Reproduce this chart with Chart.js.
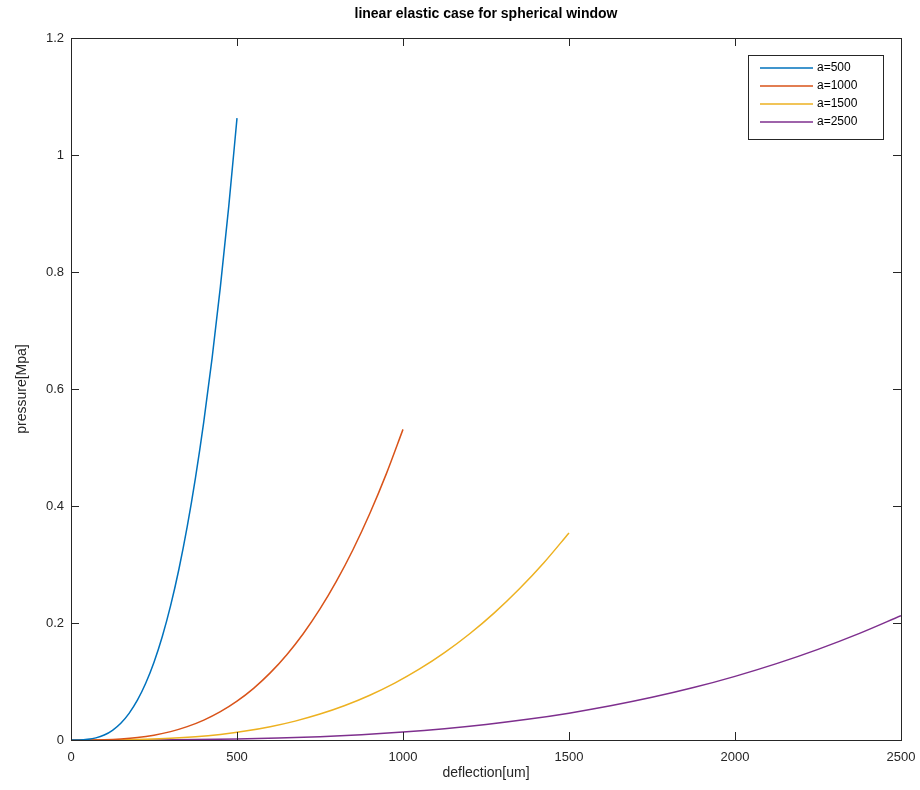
<!DOCTYPE html>
<html lang="en">
<head>
    <meta charset="UTF-8">
    <title>linear elastic case for spherical window</title>
    <script src="https://cdn.jsdelivr.net/npm/chart.js"></script>
    <style>
        body {
            margin: 0;
            background: #ffffff;
        }
        .chart-container {
            position: relative;
            width: 920px;
            height: 790px;
        }
    </style>
</head>
<body>
    <div class="chart-container">
        <canvas id="windowChart"></canvas>
    </div>

    <script>
        // values
        const seriesLabels = ['a=500', 'a=1000', 'a=1500', 'a=2500'];
        const seriesColors = ['#0072BD', '#D95319', '#EDB120', '#7E2F8E'];

        const defl500 = [0, 25, 50, 75, 100, 125, 150, 175, 200, 225, 250, 275, 300, 325, 350, 375, 400, 425, 450, 475, 500];
        const press500 = [0, 0.0001, 0.0011, 0.0036, 0.0085, 0.0166, 0.0287, 0.0456, 0.0680, 0.0969, 0.1329, 0.1769, 0.2296, 0.2919, 0.3646, 0.4485, 0.5443, 0.6528, 0.7749, 0.9114, 1.063];

        const defl1000 = [0, 50, 100, 150, 200, 250, 300, 350, 400, 450, 500, 550, 600, 650, 700, 750, 800, 850, 900, 950, 1000];
        const press1000 = [0, 0.0001, 0.0005, 0.0018, 0.0042, 0.0083, 0.0143, 0.0228, 0.0340, 0.0484, 0.0664, 0.0883, 0.1147, 0.1458, 0.1821, 0.2240, 0.2719, 0.3261, 0.3871, 0.4553, 0.531];

        const defl1500 = [0, 75, 150, 225, 300, 375, 450, 525, 600, 675, 750, 825, 900, 975, 1050, 1125, 1200, 1275, 1350, 1425, 1500];
        const press1500 = [0, 0, 0.0004, 0.0012, 0.0028, 0.0055, 0.0096, 0.0152, 0.0227, 0.0323, 0.0443, 0.0589, 0.0765, 0.0972, 0.1214, 0.1493, 0.1812, 0.2174, 0.2581, 0.3035, 0.354];

        const defl2500 = [0, 125, 250, 375, 500, 625, 750, 875, 1000, 1125, 1250, 1375, 1500, 1625, 1750, 1875, 2000, 2125, 2250, 2375, 2500];
        const press2500 = [0, 0, 0.0002, 0.0007, 0.0017, 0.0033, 0.0057, 0.0091, 0.0136, 0.0194, 0.0266, 0.0354, 0.0459, 0.0584, 0.0729, 0.0896, 0.1088, 0.1305, 0.1549, 0.1822, 0.2125];

        const xTicks = [0, 500, 1000, 1500, 2000, 2500];
        const yTicks = [0, 0.2, 0.4, 0.6, 0.8, 1, 1.2];

        const deflections = [defl500, defl1000, defl1500, defl2500];
        const pressures = [press500, press1000, press1500, press2500];

        const axisColor = '#262626';
        const fontFamily = '"Liberation Sans", Arial, Helvetica, sans-serif';

        const datasets = seriesLabels.map((label, i) => ({
            label: label,
            data: deflections[i].map((x, j) => ({ x: x, y: pressures[i][j] })),
            borderColor: seriesColors[i],
            backgroundColor: seriesColors[i],
            borderWidth: 1.5,
            pointRadius: 0,
            cubicInterpolationMode: 'monotone',
            fill: false
        }));

        // MATLAB style: box, inward ticks, title and boxed legend
        const matlabAxes = {
            id: 'matlabAxes',
            afterDraw(chart) {
                const ctx = chart.ctx;
                const area = chart.chartArea;
                const xs = chart.scales.x;
                const ys = chart.scales.y;
                const tick = 8;

                ctx.save();
                ctx.strokeStyle = axisColor;
                ctx.lineWidth = 1;
                ctx.beginPath();
                xTicks.forEach(v => {
                    const px = Math.round(xs.getPixelForValue(v)) + 0.5;
                    ctx.moveTo(px, area.bottom);
                    ctx.lineTo(px, area.bottom - tick);
                    ctx.moveTo(px, area.top);
                    ctx.lineTo(px, area.top + tick);
                });
                yTicks.forEach(v => {
                    const py = Math.round(ys.getPixelForValue(v)) + 0.5;
                    ctx.moveTo(area.left, py);
                    ctx.lineTo(area.left + tick, py);
                    ctx.moveTo(area.right, py);
                    ctx.lineTo(area.right - tick, py);
                });
                ctx.stroke();
                ctx.strokeRect(Math.round(area.left) + 0.5, Math.round(area.top) + 0.5,
                    Math.round(area.right - area.left), Math.round(area.bottom - area.top));

                // title
                ctx.fillStyle = '#000000';
                ctx.font = 'bold 14px ' + fontFamily;
                ctx.textAlign = 'center';
                ctx.textBaseline = 'middle';
                ctx.fillText('linear elastic case for spherical window', (area.left + area.right) / 2, 14);

                // legend
                const bx = area.right - 153, by = area.top + 17, bw = 135, bh = 84;
                ctx.fillStyle = '#ffffff';
                ctx.fillRect(bx, by, bw, bh);
                ctx.strokeStyle = axisColor;
                ctx.strokeRect(bx + 0.5, by + 0.5, bw, bh);
                ctx.font = '12px ' + fontFamily;
                ctx.textAlign = 'left';
                chart.data.datasets.forEach((ds, i) => {
                    const ly = by + 13 + i * 18;
                    ctx.strokeStyle = ds.borderColor;
                    ctx.lineWidth = 1.5;
                    ctx.beginPath();
                    ctx.moveTo(bx + 12, ly);
                    ctx.lineTo(bx + 65, ly);
                    ctx.stroke();
                    ctx.fillStyle = '#000000';
                    ctx.fillText(ds.label, bx + 69, ly);
                });
                ctx.restore();
            }
        };

        new Chart(document.getElementById('windowChart').getContext('2d'), {
            type: 'line',
            data: { datasets: datasets },
            plugins: [matlabAxes],
            options: {
                responsive: true,
                maintainAspectRatio: false,
                animation: false,
                layout: { padding: { left: 0, right: 19, top: 38, bottom: 0 } },
                plugins: {
                    legend: { display: false },
                    title: { display: false },
                    tooltip: { enabled: false }
                },
                scales: {
                    x: {
                        type: 'linear',
                        min: 0,
                        max: 2500,
                        afterBuildTicks: scale => { scale.ticks = xTicks.map(v => ({ value: v })); },
                        afterFit: scale => {
                            scale.height = 50;
                            scale.paddingLeft = 0;
                            scale.paddingRight = 0;
                        },
                        grid: { display: false, drawTicks: false },
                        border: { display: false },
                        ticks: {
                            color: axisColor,
                            padding: 10,
                            maxRotation: 0,
                            callback: v => String(v),
                            font: { family: fontFamily, size: 13 }
                        },
                        title: {
                            display: true,
                            text: 'deflection[um]',
                            color: axisColor,
                            padding: { top: 0, bottom: 8 },
                            font: { family: fontFamily, size: 14 }
                        }
                    },
                    y: {
                        type: 'linear',
                        min: 0,
                        max: 1.2,
                        afterBuildTicks: scale => { scale.ticks = yTicks.map(v => ({ value: v })); },
                        afterFit: scale => {
                            scale.width = 71;
                            scale.paddingTop = 0;
                            scale.paddingBottom = 0;
                        },
                        grid: { display: false, drawTicks: false },
                        border: { display: false },
                        ticks: {
                            color: axisColor,
                            padding: 7,
                            callback: v => String(Math.round(v * 10) / 10),
                            font: { family: fontFamily, size: 13 }
                        },
                        title: {
                            display: true,
                            text: 'pressure[Mpa]',
                            color: axisColor,
                            padding: { top: 14, bottom: 0 },
                            font: { family: fontFamily, size: 14 }
                        }
                    }
                }
            }
        });
    </script>
</body>
</html>
